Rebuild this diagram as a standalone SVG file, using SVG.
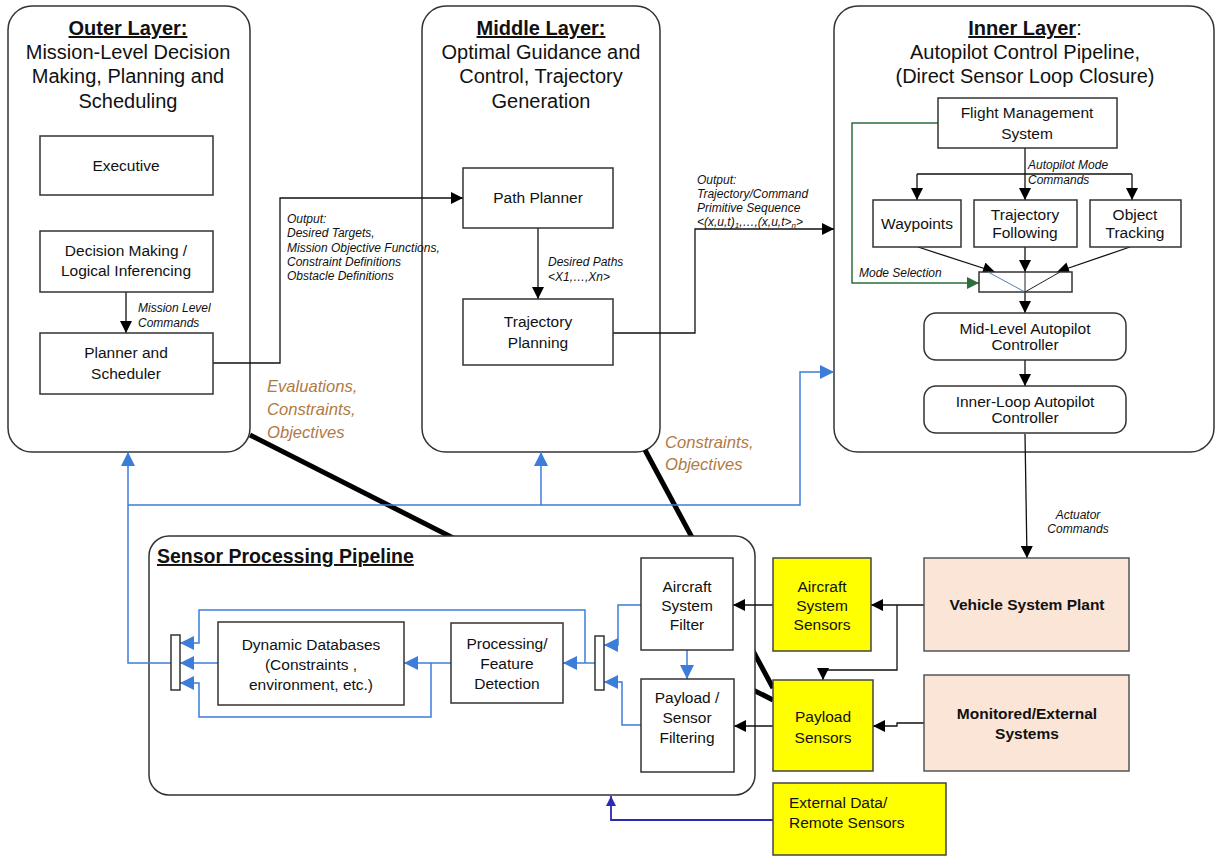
<svg xmlns="http://www.w3.org/2000/svg" width="1216" height="857" viewBox="0 0 1216 857">
<defs>
<style>
text{font-family:"Liberation Sans",Arial,sans-serif;fill:#111}
.t{font-size:20px;text-anchor:middle}
.b{font-size:15.5px;text-anchor:middle}
.i{font-size:12px;font-style:italic}
.br{font-size:16.6px;font-style:italic;fill:#b07a45}
.frame{fill:#fff;stroke:#333;stroke-width:1.5}
.box{fill:#fff;stroke:#333;stroke-width:1.5}
.yel{fill:#ffff00;stroke:#444;stroke-width:1.5}
.pch{fill:#fbe5d6;stroke:#555;stroke-width:1.5}
.k{fill:none;stroke:#111;stroke-width:1.3}
.bl{fill:none;stroke:#3c7dd9;stroke-width:1.5}
.gr{fill:none;stroke:#2d6e3e;stroke-width:1.5}
.db{fill:none;stroke:#2a2ab5;stroke-width:1.8}
.thick{fill:none;stroke:#000;stroke-width:5}
</style>
<marker id="ak" viewBox="0 0 10 10" refX="10" refY="5" markerWidth="13" markerHeight="12" markerUnits="userSpaceOnUse" orient="auto"><path d="M0,0L10,5L0,10z" fill="#000"/></marker>
<marker id="ab" viewBox="0 0 10 10" refX="10" refY="5" markerWidth="14" markerHeight="14" markerUnits="userSpaceOnUse" orient="auto"><path d="M0,0L10,5L0,10z" fill="#3c7dd9"/></marker>
<marker id="ag" viewBox="0 0 10 10" refX="10" refY="5" markerWidth="13" markerHeight="12" markerUnits="userSpaceOnUse" orient="auto"><path d="M0,0L10,5L0,10z" fill="#2d6e3e"/></marker>
<marker id="ad" viewBox="0 0 10 10" refX="10" refY="5" markerWidth="11" markerHeight="10" markerUnits="userSpaceOnUse" orient="auto"><path d="M0,0L10,5L0,10z" fill="#2a2ab5"/></marker>
</defs>
<rect width="1216" height="857" fill="#fff"/>

<g id="outer-layer">
<rect class="frame" x="8" y="6" width="242" height="446" rx="24"/>
<text class="t" x="128" y="35"><tspan font-weight="bold" text-decoration="underline">Outer Layer:</tspan></text>
<text class="t" x="128" y="59">Mission-Level Decision</text>
<text class="t" x="128" y="83">Making, Planning and</text>
<text class="t" x="128" y="108">Scheduling</text>
</g>
<g id="middle-layer">
<rect class="frame" x="422" y="6" width="238" height="446" rx="24"/>
<text class="t" x="541" y="35"><tspan font-weight="bold" text-decoration="underline">Middle Layer:</tspan></text>
<text class="t" x="541" y="59">Optimal Guidance and</text>
<text class="t" x="541" y="83">Control, Trajectory</text>
<text class="t" x="541" y="108">Generation</text>
</g>
<g id="inner-layer">
<rect class="frame" x="834" y="6" width="380" height="446" rx="24"/>
<text class="t" x="1025" y="35"><tspan font-weight="bold" text-decoration="underline">Inner Layer</tspan>:</text>
<text class="t" x="1025" y="59">Autopilot Control Pipeline,</text>
<text class="t" x="1025" y="83">(Direct Sensor Loop Closure)</text>
</g>

<g id="thick-links">
<path class="thick" d="M250,435 L773,700"/>
<path class="thick" d="M645,450 L773,688"/>
</g>

<g id="sensor-pipeline">
<rect class="frame" x="149" y="536" width="606" height="259" rx="20"/>
<text x="157" y="563" font-size="19.5" font-weight="bold" text-decoration="underline">Sensor Processing Pipeline</text>
</g>

<g id="connectors">
<path class="k" d="M126,292 V333" marker-end="url(#ak)"/>
<path class="k" d="M213,363 H280 V198 H463" marker-end="url(#ak)"/>
<path class="k" d="M538,228 V299" marker-end="url(#ak)"/>
<path class="k" d="M613,333 H695 V229 H834" marker-end="url(#ak)"/>
<path class="k" d="M1025,148 V200" marker-end="url(#ak)"/>
<path class="k" d="M917,174 H1132"/>
<path class="k" d="M917,174 V200" marker-end="url(#ak)"/>
<path class="k" d="M1132,174 V200" marker-end="url(#ak)"/>
<path class="k" d="M918,247 L995,272" marker-end="url(#ak)"/>
<path class="k" d="M1025,247 V272" marker-end="url(#ak)"/>
<path class="k" d="M1130,247 L1057,272" marker-end="url(#ak)"/>
<path class="k" d="M1025,292 V313" marker-end="url(#ak)"/>
<path class="k" d="M1025,360 V386" marker-end="url(#ak)"/>
<path class="k" d="M1025,434 L1027,558" marker-end="url(#ak)"/>
<path class="k" d="M924,605 H871" marker-end="url(#ak)"/>
<path class="k" d="M897,605 V670 H823 V680" marker-end="url(#ak)"/>
<path class="k" d="M924,723 H897 V726 H873" marker-end="url(#ak)"/>
<path class="k" d="M773,605 H733" marker-end="url(#ak)"/>
<path class="k" d="M773,726 H734" marker-end="url(#ak)"/>
<path class="gr" d="M938,123 H852 V283 H979" marker-end="url(#ag)"/>
<path class="bl" d="M687,650 V679" marker-end="url(#ab)"/>
<path class="bl" d="M641,605 H618 V645 H604" marker-end="url(#ab)"/>
<path class="bl" d="M641,725 H622 V682 H604" marker-end="url(#ab)"/>
<path class="bl" d="M595,663 H563" marker-end="url(#ab)"/>
<path class="bl" d="M585,663 V610 H199 V643 H180" marker-end="url(#ab)"/>
<path class="bl" d="M451,663 H404" marker-end="url(#ab)"/>
<path class="bl" d="M431,663 V717 H199 V683 H180" marker-end="url(#ab)"/>
<path class="bl" d="M218,663 H180" marker-end="url(#ab)"/>
<path class="bl" d="M171,663 H128 V452" marker-end="url(#ab)"/>
<path class="bl" d="M128,505 H800 V372 H834" marker-end="url(#ab)"/>
<path class="bl" d="M541,505 V452" marker-end="url(#ab)"/>
<path class="db" d="M773,820 H611 V796" marker-end="url(#ad)"/>
</g>

<g id="connector-labels">
<text class="i" x="138" y="312">Mission Level</text>
<text class="i" x="138" y="327">Commands</text>
<text class="i" x="287" y="223">Output:</text>
<text class="i" x="287" y="237">Desired Targets,</text>
<text class="i" x="287" y="252">Mission Objective Functions,</text>
<text class="i" x="287" y="266">Constraint Definitions</text>
<text class="i" x="287" y="280">Obstacle Definitions</text>
<text class="i" x="548" y="266">Desired Paths</text>
<text class="i" x="548" y="281">&lt;X1,…,Xn&gt;</text>
<text class="i" x="697" y="184">Output:</text>
<text class="i" x="697" y="198">Trajectory/Command</text>
<text class="i" x="697" y="212">Primitive Sequence</text>
<text class="i" x="697" y="226">&lt;(x,u,t)<tspan font-size="8" dy="2">1</tspan><tspan dy="-2">,…,(x,u,t&gt;</tspan><tspan font-size="8" dy="2">n</tspan><tspan dy="-2">&gt;</tspan></text>
<text class="i" x="1028" y="169">Autopilot Mode</text>
<text class="i" x="1028" y="184">Commands</text>
<text class="i" x="859" y="277">Mode Selection</text>
<text class="i" x="1078" y="519" text-anchor="middle">Actuator</text>
<text class="i" x="1078" y="533" text-anchor="middle">Commands</text>
<text class="br" x="267" y="392">Evaluations,</text>
<text class="br" x="267" y="415">Constraints,</text>
<text class="br" x="267" y="438">Objectives</text>
<text class="br" x="665" y="448">Constraints,</text>
<text class="br" x="665" y="470">Objectives</text>
</g>

<g id="executive"><rect class="box" x="40" y="136" width="173" height="59"/><text class="b" x="126" y="171">Executive</text></g>
<g id="decision-making"><rect class="box" x="40" y="231" width="173" height="61"/><text class="b" x="126" y="256">Decision Making /</text><text class="b" x="126" y="276">Logical Inferencing</text></g>
<g id="planner-scheduler"><rect class="box" x="40" y="333" width="173" height="61"/><text class="b" x="126" y="358">Planner and</text><text class="b" x="126" y="379">Scheduler</text></g>

<g id="path-planner"><rect class="box" x="463" y="168" width="150" height="60"/><text class="b" x="538" y="203">Path Planner</text></g>
<g id="trajectory-planning"><rect class="box" x="463" y="299" width="150" height="66"/><text class="b" x="538" y="327">Trajectory</text><text class="b" x="538" y="348">Planning</text></g>

<g id="fms"><rect class="box" x="938" y="98" width="179" height="50"/><text class="b" x="1027" y="118">Flight Management</text><text class="b" x="1027" y="139">System</text></g>
<g id="waypoints"><rect class="box" x="873" y="200" width="88" height="47"/><text class="b" x="917" y="229">Waypoints</text></g>
<g id="trajectory-following"><rect class="box" x="974" y="200" width="103" height="47"/><text class="b" x="1025" y="220">Trajectory</text><text class="b" x="1025" y="238">Following</text></g>
<g id="object-tracking"><rect class="box" x="1090" y="200" width="91" height="47"/><text class="b" x="1135" y="220">Object</text><text class="b" x="1135" y="238">Tracking</text></g>
<g id="mode-mux">
<rect class="box" x="979" y="272" width="93" height="20" fill="none"/>
<path d="M988,272 L1025,292" stroke="#5a7fa8" stroke-width="1" fill="none"/>
<path d="M1025,272 V292 M1060,272 L1025,292" stroke="#222" stroke-width="1" fill="none"/>
</g>
<g id="mid-level"><rect class="box" x="924" y="313" width="202" height="47" rx="12"/><text class="b" x="1025" y="334">Mid-Level Autopilot</text><text class="b" x="1025" y="350">Controller</text></g>
<g id="inner-loop"><rect class="box" x="924" y="386" width="202" height="47" rx="12"/><text class="b" x="1025" y="407">Inner-Loop Autopilot</text><text class="b" x="1025" y="423">Controller</text></g>

<g id="aircraft-system-filter"><rect class="box" x="641" y="558" width="92" height="92"/><text class="b" x="687" y="592">Aircraft</text><text class="b" x="687" y="611">System</text><text class="b" x="687" y="630">Filter</text></g>
<g id="payload-sensor-filtering"><rect class="box" x="641" y="679" width="93" height="93"/><text class="b" x="687" y="703">Payload /</text><text class="b" x="687" y="723">Sensor</text><text class="b" x="687" y="743">Filtering</text></g>
<g id="right-mux"><rect class="box" x="595" y="636" width="9" height="54"/></g>
<g id="processing"><rect class="box" x="451" y="623" width="112" height="80"/><text class="b" x="507" y="649">Processing/</text><text class="b" x="507" y="669">Feature</text><text class="b" x="507" y="689">Detection</text></g>
<g id="dynamic-databases"><rect class="box" x="218" y="622" width="186" height="83"/><text class="b" x="311" y="650">Dynamic Databases</text><text class="b" x="311" y="670">(Constraints ,</text><text class="b" x="311" y="690">environment, etc.)</text></g>
<g id="left-mux"><rect class="box" x="171" y="635" width="9" height="55"/></g>

<g id="aircraft-system-sensors"><rect class="yel" x="773" y="558" width="98" height="93"/><text class="b" x="822" y="592">Aircraft</text><text class="b" x="822" y="611">System</text><text class="b" x="822" y="630">Sensors</text></g>
<g id="payload-sensors"><rect class="yel" x="773" y="680" width="100" height="91"/><text class="b" x="823" y="722">Payload</text><text class="b" x="823" y="743">Sensors</text></g>
<g id="vehicle-system-plant"><rect class="pch" x="924" y="558" width="205" height="93"/><text class="b" x="1027" y="610" font-weight="bold">Vehicle System Plant</text></g>
<g id="monitored-external"><rect class="pch" x="924" y="675" width="205" height="96"/><text class="b" x="1027" y="719" font-weight="bold">Monitored/External</text><text class="b" x="1027" y="739" font-weight="bold">Systems</text></g>
<g id="external-data"><rect class="yel" x="773" y="783" width="173" height="72"/><text x="789" y="808" font-size="15.5">External Data/</text><text x="789" y="828" font-size="15.5">Remote Sensors</text></g>
</svg>
